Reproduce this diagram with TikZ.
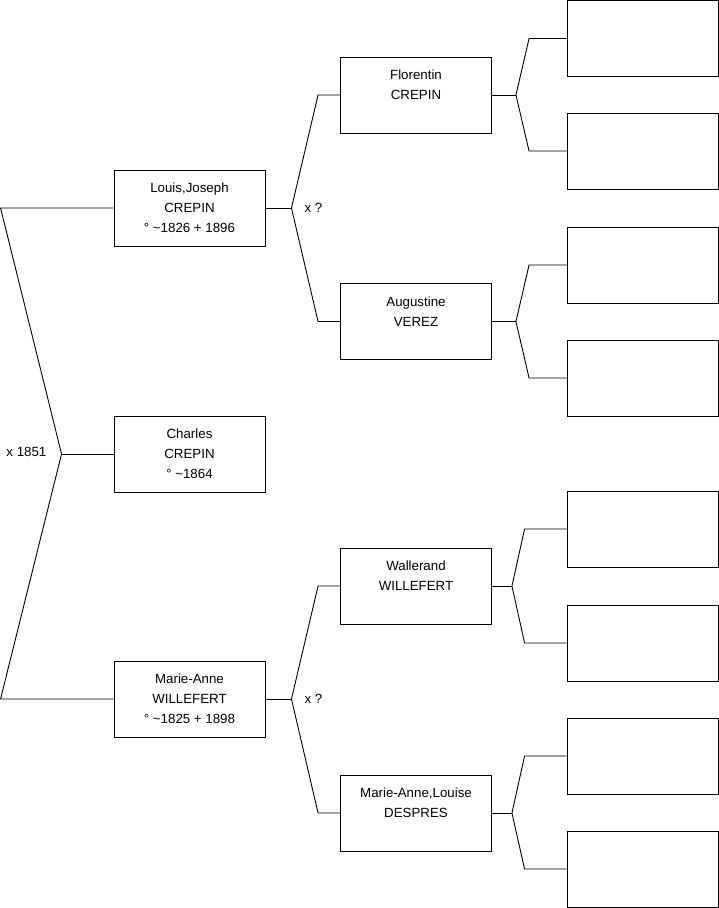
\documentclass[tikz,border=0pt]{standalone}
\usepackage{fontspec}
\setmainfont{Liberation Sans}
\usetikzlibrary{positioning}

\begin{document}
\begin{tikzpicture}[x=1pt,y=-1pt,
    person/.style={draw,line width=0.9pt,minimum width=151pt,minimum height=76pt,
                   inner sep=0pt,align=center,font=\fontsize{13.3}{20}\selectfont},
    blank/.style={draw,line width=0.9pt,minimum width=151pt,minimum height=76pt,
                  inner sep=0pt},
    union/.style={inner sep=0pt,font=\fontsize{13.3}{16}\selectfont},
    link/.style={line width=0.9pt}]
    \useasboundingbox (0,0) rectangle (719,908);
    % generation 1
    \node[person] (louis) at (189.5,208) {Louis,Joseph\\CREPIN\\° \textasciitilde1826 + 1896};
    \node[person] (charles) at (189.5,454) {Charles\\CREPIN\\° \textasciitilde1864};
    \node[person] (marieanne) at (189.5,699) {Marie-Anne\\WILLEFERT\\° \textasciitilde1825 + 1898};
    % generation 2
    \node[person] (florentin) at (416,95) {Florentin\\CREPIN\\\phantom{0}};
    \node[person] (augustine) at (416,321.5) {Augustine\\VEREZ\\\phantom{0}};
    \node[person] (wallerand) at (416,586) {Wallerand\\WILLEFERT\\\phantom{0}};
    \node[person] (despres) at (416,813) {Marie-Anne,Louise\\DESPRES\\\phantom{0}};
    % generation 3 (empty)
    \node[blank] (e1) at (642.5,38.5) {};
    \node[blank] (e2) at (642.5,151) {};
    \node[blank] (e3) at (642.5,265) {};
    \node[blank] (e4) at (642.5,378) {};
    \node[blank] (e5) at (642.5,529) {};
    \node[blank] (e6) at (642.5,643) {};
    \node[blank] (e7) at (642.5,756) {};
    \node[blank] (e8) at (642.5,869) {};
    % forks
    \coordinate[left=52pt of charles.west] (j1);
    \coordinate[right=26pt of louis.east] (j2);
    \coordinate[right=26pt of marieanne.east] (j3);
    \coordinate[right=24pt of florentin.east] (j4);
    \coordinate[right=24pt of augustine.east] (j5);
    \coordinate[right=20pt of wallerand.east] (j6);
    \coordinate[right=20pt of despres.east] (j7);
    \node[union,left=15pt of j1,yshift=2pt] (m1) {x 1851};
    \node[union,right=13pt of j2] (m2) {x ?};
    \node[union,right=13pt of j3] (m3) {x ?};
    \draw[link] (charles.west) -- (j1);
    \draw[link] (j1) -- ([xshift=-113pt]louis.west) -- (louis.west);
    \draw[link] (j1) -- ([xshift=-113pt]marieanne.west) -- (marieanne.west);
    \draw[link] (louis.east) -- (j2);
    \draw[link] (j2) -- ([xshift=-22pt]florentin.west) -- (florentin.west);
    \draw[link] (j2) -- ([xshift=-22pt]augustine.west) -- (augustine.west);
    \draw[link] (marieanne.east) -- (j3);
    \draw[link] (j3) -- ([xshift=-22pt]wallerand.west) -- (wallerand.west);
    \draw[link] (j3) -- ([xshift=-22pt]despres.west) -- (despres.west);
    \draw[link] (florentin.east) -- (j4);
    \draw[link] (j4) -- ([xshift=-37.5pt]e1.west) -- (e1.west);
    \draw[link] (j4) -- ([xshift=-37.5pt]e2.west) -- (e2.west);
    \draw[link] (augustine.east) -- (j5);
    \draw[link] (j5) -- ([xshift=-37.5pt]e3.west) -- (e3.west);
    \draw[link] (j5) -- ([xshift=-37.5pt]e4.west) -- (e4.west);
    \draw[link] (wallerand.east) -- (j6);
    \draw[link] (j6) -- ([xshift=-42pt]e5.west) -- (e5.west);
    \draw[link] (j6) -- ([xshift=-42pt]e6.west) -- (e6.west);
    \draw[link] (despres.east) -- (j7);
    \draw[link] (j7) -- ([xshift=-42pt]e7.west) -- (e7.west);
    \draw[link] (j7) -- ([xshift=-42pt]e8.west) -- (e8.west);
\end{tikzpicture}
\end{document}
